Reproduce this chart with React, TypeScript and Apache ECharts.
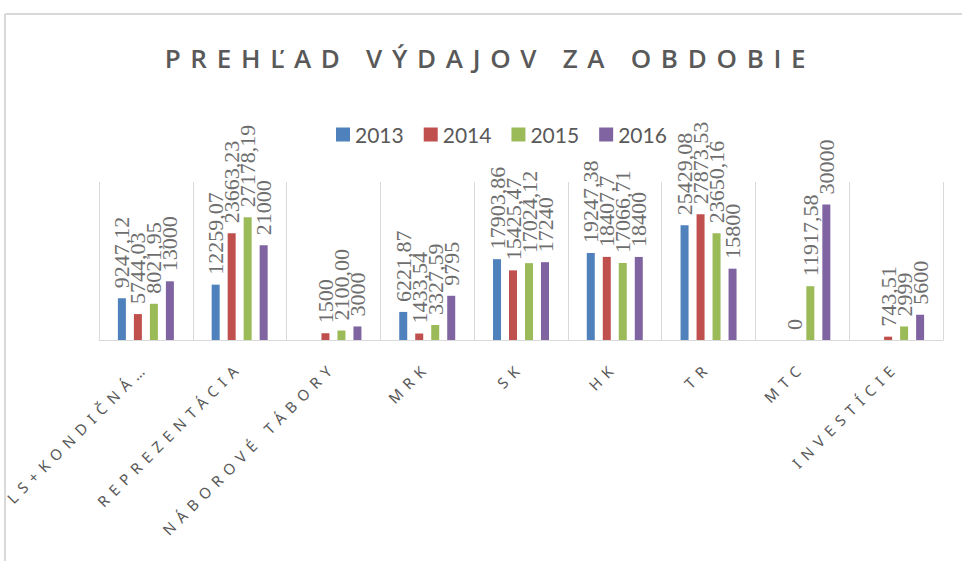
import React, { useEffect, useRef } from 'react';
import * as echarts from 'echarts';

const titleText = 'PREHĽAD VÝDAJOV ZA OBDOBIE';
const categories = ['LS+KONDIČNÁ…', 'REPREZENTÁCIA', 'NÁBOROVÉ TÁBORY', 'MRK', 'SK', 'HK', 'TR', 'MTC', 'INVESTÍCIE'];
const years = ['2013', '2014', '2015', '2016'];
const colors = ['#4f81bd', '#c0504d', '#9bbb59', '#8064a2'];

const v2013 = [9247.12, 12259.07, null, 6221.87, 17903.86, 19247.38, 25429.08, null, null];
const v2014 = [5744.03, 23663.23, 1500, 1433.54, 15425.47, 18407.7, 27873.53, 0, 743.51];
const v2015 = [8021.95, 27178.19, 2100, 3327.59, 17024.12, 17066.71, 23650.16, 11917.58, 2999];
const v2016 = [13000, 21000, 3000, 9795, 17240, 18400, 15800, 30000, 5600];

const l2013 = ['9247,12', '12259,07', '', '6221,87', '17903,86', '19247,38', '25429,08', '', ''];
const l2014 = ['5744,03', '23663,23', '1500', '1433,54', '15425,47', '18407,7', '27873,53', '0', '743,51'];
const l2015 = ['8021,95', '27178,19', '2100,00', '3327,59', '17024,12', '17066,71', '23650,16', '11917,58', '2999'];
const l2016 = ['13000', '21000', '3000', '9795', '17240', '18400', '15800', '30000', '5600'];

const values = [v2013, v2014, v2015, v2016];
const labels = [l2013, l2014, l2015, l2016];

export default function App() {
  const ref = useRef<HTMLDivElement>(null);
  useEffect(() => {
    if (!ref.current) return;
    const chart = echarts.init(ref.current, null, { renderer: 'svg' });
    chart.setOption({
      animation: false,
      backgroundColor: '#ffffff',
      graphic: [
        { type: 'line', shape: { x1: 5, y1: 14, x2: 962, y2: 14 }, style: { stroke: '#d9d9d9', lineWidth: 2 } },
        { type: 'line', shape: { x1: 5, y1: 14, x2: 5, y2: 561 }, style: { stroke: '#d9d9d9', lineWidth: 2 } },
        {
          type: 'text', x: 490, y: 58,
          style: {
            text: titleText, fontSize: 26, fontWeight: 600, fontFamily: 'Open Sans',
            fill: '#595959', textAlign: 'center', textVerticalAlign: 'middle'
          }
        }
      ],
      legend: {
        data: years,
        left: 331, top: 119,
        itemWidth: 14, itemHeight: 14, itemGap: 20,
        icon: 'rect',
        textStyle: { fontFamily: 'Lato', fontSize: 21, color: '#595959', padding: [0, 0, 0, 0] }
      },
      grid: { left: 99, right: 19, top: 182, bottom: 221, containLabel: false },
      xAxis: {
        type: 'category',
        data: categories,
        axisLine: { lineStyle: { color: '#d9d9d9', width: 1 } },
        axisTick: { show: false },
        splitLine: { show: true, lineStyle: { color: '#d9d9d9', width: 1 } },
        axisLabel: {
          rotate: 45, interval: 0, margin: 24,
          fontFamily: 'Noto Sans', fontSize: 15, color: '#595959'
        }
      },
      yAxis: {
        type: 'value', min: 0, max: 35000, show: false,
        splitLine: { show: false }
      },
      series: years.map((y, i) => ({
        name: y,
        type: 'bar',
        data: values[i],
        barWidth: 8,
        barGap: '100%',
        itemStyle: { color: colors[i] },
        label: {
          show: true,
          position: 'top',
          rotate: 90,
          align: 'left',
          verticalAlign: 'middle',
          distance: 10,
          fontFamily: 'Liberation Serif',
          fontSize: 22,
          color: '#6e6e6e',
          formatter: (p: any) => labels[i][p.dataIndex]
        }
      }))
    });
    return () => chart.dispose();
  }, []);
  return (
    <>
      <style>{`
        #chart text[style*="Open Sans"] { letter-spacing: 9.7px; }
        #chart text[style*="Noto Sans"] { letter-spacing: 6.5px; }
      `}</style>
      <div id="chart" ref={ref} style={{ position: 'fixed', left: 0, top: 0, width: 962, height: 561 }} />
    </>
  );
}
